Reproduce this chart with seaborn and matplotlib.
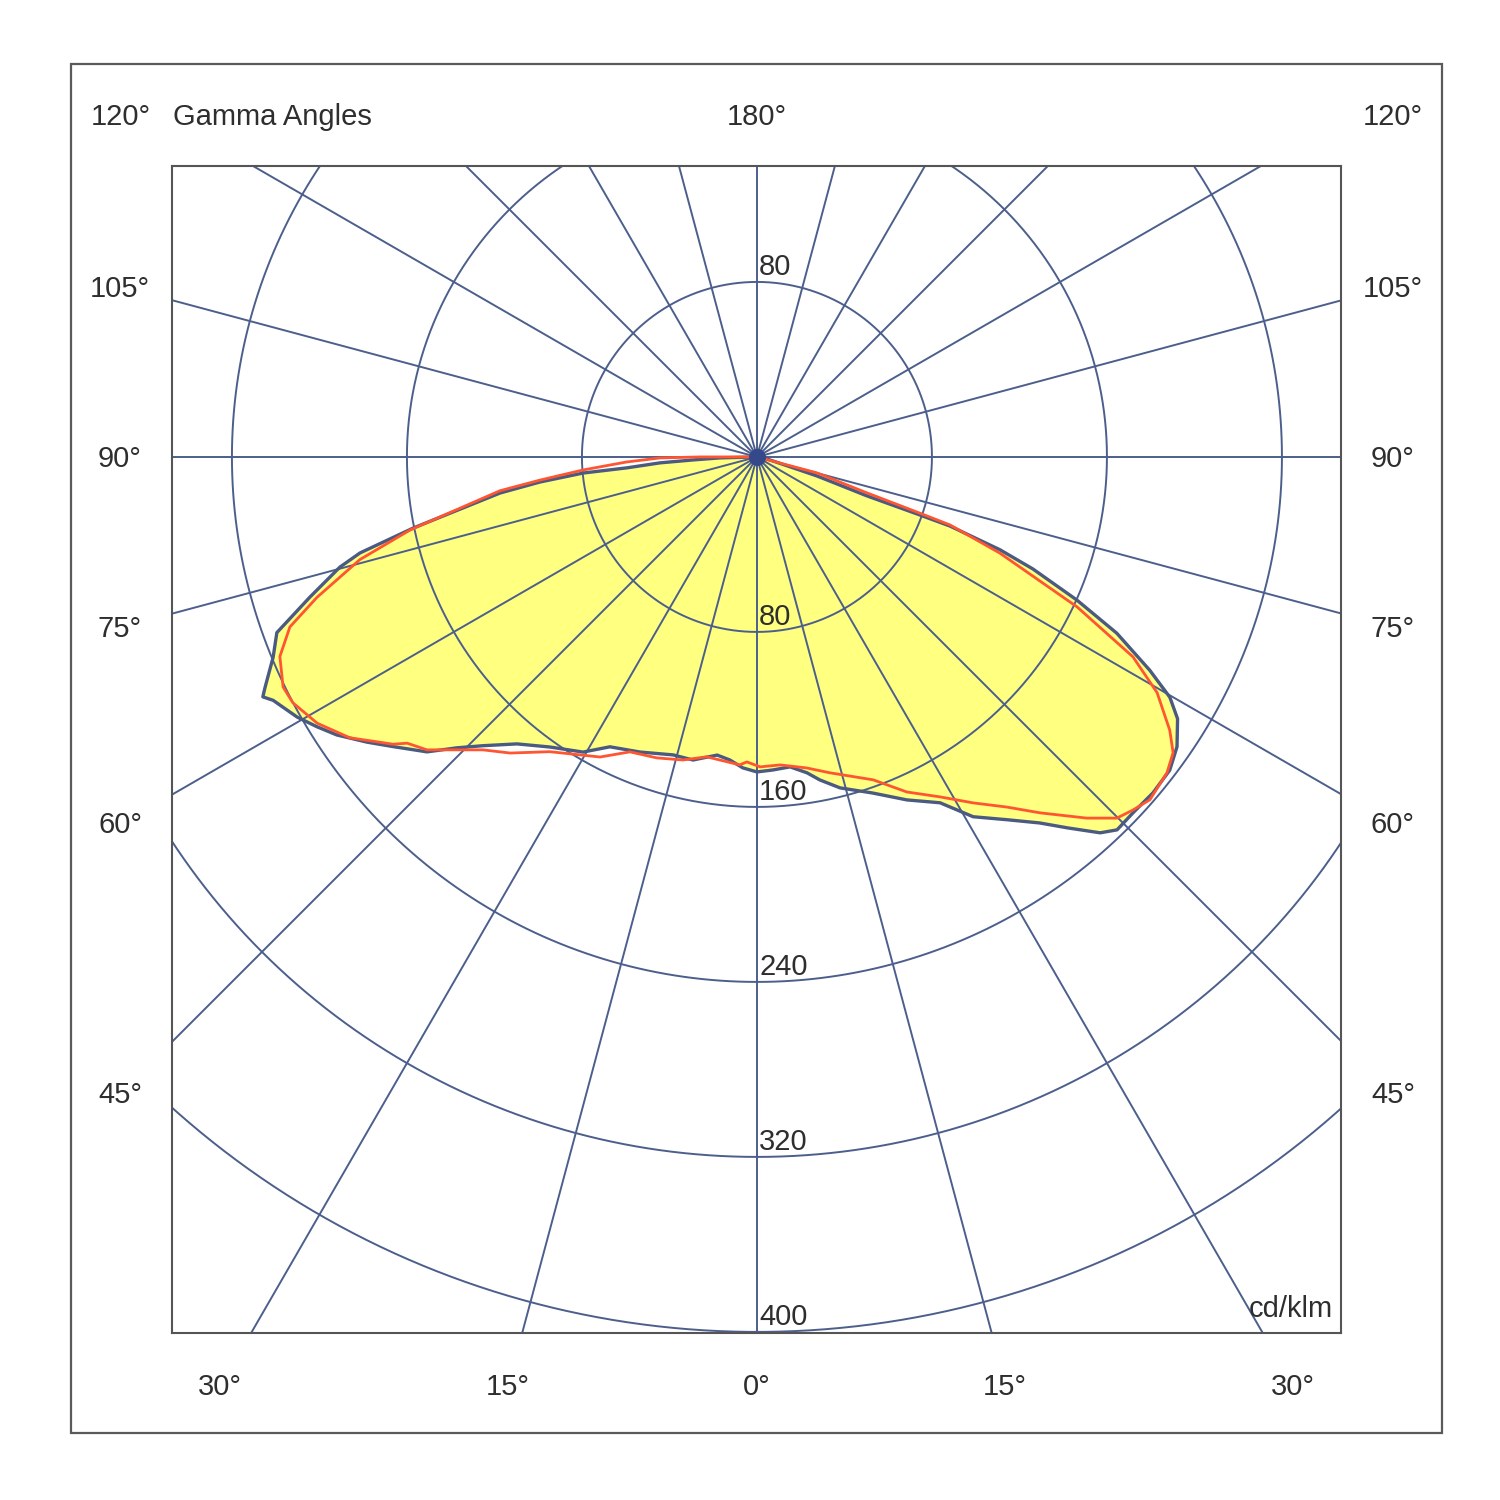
import numpy as np
import pandas as pd
import seaborn as sns
import matplotlib
matplotlib.use("Agg")
from matplotlib import pyplot as plt
from matplotlib.patches import Rectangle

# gamma angle (deg, 0 = straight down, right side positive) and intensity in cd/klm
blue_gamma = [-90, -88.5, -87.3, -86.5, -85.2, -84.7, -83.4, -82.0, -78.3, -76.4,
              -75.2, -72.6, -69.9, -67.5, -64.9, -64.1, -63.3, -60.5, -58.5, -56.5,
              -53.8, -51.5, -48.2, -45.9, -43.5, -39.9, -35.5, -30.5, -26.9, -21.6,
              -15.7, -11.9, -7.6, -5.1, -2.6, 0.0, 2.9, 6.1, 9.0, 11.0,
              14.1, 19.0, 23.6, 27.9, 31.0, 34.6, 37.7, 39.9, 42.4, 44.0,
              46.6, 49.7, 52.8, 55.4, 58.1, 59.8, 61.5, 63.9, 65.9, 67.9,
              69.1, 70.3, 70.4, 70.5, 72.4, 80, 90]
blue_cd = [0, 17, 29.3, 44.4, 59.6, 79.9, 99.9, 118.6, 160.6, 186.7,
           197.2, 214.1, 233.7, 239.4, 248.3, 251.1, 247.6, 241.5, 236.0, 230.3,
           220.8, 212.7, 202.3, 191.1, 182.0, 171.0, 162.9, 156.6, 148.6, 145.1,
           141.5, 141.6, 137.5, 139.1, 142.3, 144.0, 143.3, 142.5, 146.2, 150.4,
           156.0, 162.5, 171.1, 178.9, 191.9, 201.5, 211.5, 221.0, 232.7, 237.0,
           236.7, 237.4, 236.9, 233.3, 226.5, 218.4, 204.3, 183.2, 160.2, 136.2,
           118.9, 93.7, 77.6, 53.3, 28.8, 4, 0]

red_gamma = [-91, -90, -89.4, -87.8, -85.7, -83.9, -82.5, -78.1, -75.5, -72.3,
             -70.0, -67.3, -64.1, -62.1, -58.8, -55.4, -51.7, -50.7, -48.4, -43.1,
             -39.8, -35.1, -27.6, -23.3, -18.4, -13.7, -9.5, -3.2, -1.9, 0.6,
             4.3, 9.1, 13.0, 19.8, 24.1, 28.3, 32.0, 35.5, 38.5, 42.4,
             44.9, 46.8, 48.9, 52.4, 54.6, 56.5, 59.5, 62.0, 64.9, 68.4,
             70.6, 71.0, 71.9, 75.1, 90]
red_cd = [0, 26, 44.3, 59.5, 79.8, 99.8, 118.5, 162.1, 187.5, 211.1,
          227.2, 236.4, 240.8, 240.1, 235.0, 226.1, 211.9, 206.6, 201.7, 183.4,
          176.2, 164.7, 154.8, 146.8, 145.0, 142.6, 139.0, 141.0, 139.5, 141.7,
          141.2, 144.0, 148.2, 156.9, 167.8, 176.5, 186.5, 196.6, 207.9, 223.6,
          233.1, 235.8, 238.4, 236.6, 233.4, 226.3, 212.3, 194.7, 161.6, 119.4,
          93.5, 77.3, 52.9, 28.4, 0]

rings = [80, 160, 240, 320, 400]
ring_labels = ["80", "160", "240", "320", "400"]
spoke_step = 15

top_labels = ["120°", "180°", "120°"]
side_labels = ["105°", "90°", "75°", "60°", "45°"]
bottom_labels = ["30°", "15°", "0°", "15°", "30°"]
title = "Gamma Angles"
unit = "cd/klm"


def to_xy(gamma, cd):
    g = np.radians(np.asarray(gamma, dtype=float))
    cd = np.asarray(cd, dtype=float)
    return pd.DataFrame({"x": cd * np.sin(g), "y": -cd * np.cos(g)})


blue = to_xy(blue_gamma, blue_cd)
red = to_xy(red_gamma, red_cd)

sns.set_theme(style="white")
plt.rcParams['font.family'] = ['Liberation Sans', 'DejaVu Sans']

W = 1500
fig = plt.figure(figsize=(15, 15), dpi=100)
fig.patch.set_facecolor("white")

# outer frame
fig.add_artist(Rectangle((71 / W, 1 - 1433 / W), 1371 / W, 1369 / W,
                         transform=fig.transFigure, fill=False,
                         edgecolor="#5a5a5a", lw=1.6))

ax = fig.add_axes([172 / W, 1 - 1333 / W, 1169 / W, 1167 / W])
ax.set_xlim(-267.4, 267.0)
ax.set_ylim(-400.5, 133.0)
ax.set_xticks([])
ax.set_yticks([])
for s in ax.spines.values():
    s.set_visible(True)
    s.set_color("#555555")
    s.set_linewidth(1.5)

grid_c = "#4c5f8c"
ax.fill(blue["x"], blue["y"], color="#ffff80", zorder=1, lw=0)

t = np.linspace(0, 2 * np.pi, 721)
for r in rings:
    ax.plot(r * np.cos(t), r * np.sin(t), color=grid_c, lw=1.4, zorder=2)
for a in range(0, 360, spoke_step):
    ar = np.radians(a)
    ax.plot([0, 1000 * np.sin(ar)], [0, -1000 * np.cos(ar)],
            color=grid_c, lw=1.4, zorder=2)

sns.lineplot(data=blue, x="x", y="y", sort=False, estimator=None, ax=ax,
             color="#4a5a80", lw=2.4, zorder=3, legend=False)
sns.lineplot(data=red, x="x", y="y", sort=False, estimator=None, ax=ax,
             color="#ff5530", lw=2.0, zorder=4, legend=False)
ax.scatter([0], [0], s=150, color="#34488a", zorder=5, linewidths=0)
ax.set_xlabel("")
ax.set_ylabel("")

txt = dict(fontsize=21, color="#2e2e2e")
px = 400 / 875
for r, lab in zip(rings, ring_labels):
    ax.text(1, -r + 7 * px, lab, ha="left", va="baseline", zorder=6, **txt)
ax.text(1, rings[0] + 7 * px, ring_labels[0], ha="left", va="baseline", zorder=6, **txt)
ax.text(263.3, -(1317 - 457) * px, unit, ha="right", va="baseline", zorder=6, **txt)


def ftext(xp, yp, s, ha="center"):
    fig.text(xp / W, 1 - (yp + 10) / W, s, ha=ha, va="baseline", **txt)


for xp, lab in zip([121, 757, 1393], top_labels):
    ftext(xp, 115, lab)
ftext(173, 115, title, ha="left")
for yp, lab in zip([287, 457, 627, 823, 1093], side_labels):
    ftext(120, yp, lab)
    ftext(1393, yp, lab)
for xp, lab in zip([220, 508, 757, 1005, 1293], bottom_labels):
    ftext(xp, 1385, lab)

fig.savefig("out.png", dpi=100)
